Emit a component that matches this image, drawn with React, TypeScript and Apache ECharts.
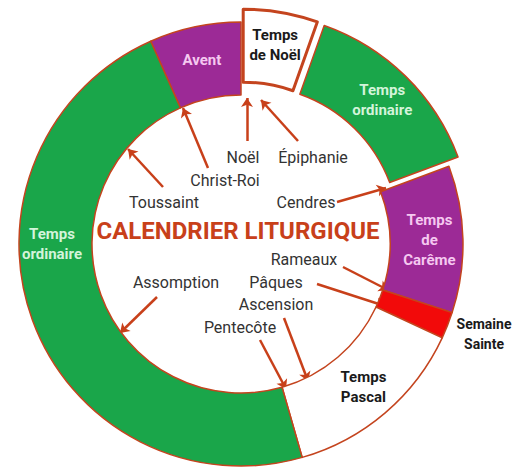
import React, { useEffect, useRef } from "react";
import * as echarts from "echarts";

// Liturgical seasons (arc size in degrees)
const phases = ["Avent", "Temps de Noël", "Temps ordinaire", "Temps de Carême", "Semaine Sainte", "Temps Pascal", "Temps ordinaire"];
const phaseDegrees = [24, 19.5, 50, 38.5, 7, 49, 172];
const phaseColors = ["#9c2a96", "#ffffff", "#1aa64a", "#9c2a96", "#f20a0a", "#ffffff", "#1aa64a"];
const phaseExploded = [false, true, true, false, false, false, false];
const phaseLabelText = ["Avent", "Temps\nde Noël", "Temps\nordinaire", "Temps\nde\nCarême", "", "Temps\nPascal", ""];
const phaseLabelColor = ["#f5c8f0", "#1a1a1a", "#d3f4da", "#f5c8f0", "#1a1a1a", "#1a1a1a", "#d3f4da"];

// Feasts
const feasts = ["Noël", "Épiphanie", "Christ-Roi", "Toussaint", "Cendres", "Rameaux", "Pâques", "Assomption", "Ascension", "Pentecôte"];

// Layout (positions only)
const feastLabelPos = [[243, 157], [313, 157], [225, 180], [164, 202], [306, 202], [304, 259], [276, 282], [176, 282], [276, 304], [240, 327]];
const feastArrows = [
  [[247, 141], [247, 98]],
  [[298, 141], [261, 100]],
  [[208, 168], [183, 108]],
  [[163, 187], [128, 149]],
  [[337, 202], [386, 188]],
  [[343, 267], [388, 290]],
  [[317, 284], [385, 306]],
  [[157, 297], [120, 333]],
  [[284, 318], [308, 381]],
  [[260, 340], [286, 389]],
];

const BORDER = "#c4441e";
const ACCENT = "#c8401a";

export default function App() {
  const ref = useRef<HTMLDivElement>(null);
  useEffect(() => {
    document.body.style.margin = "0";
    const chart = echarts.init(ref.current!, null, { renderer: "svg" });
    const pieData = phases.map((name, i) => ({
      name: `${i}-${name}`,
      value: phaseDegrees[i],
      selected: phaseExploded[i],
      itemStyle: {
        color: phaseColors[i],
        borderColor: BORDER,
        borderWidth: i === 1 ? 3 : 1.5,
      },
      label: {
        show: phaseLabelText[i] !== "",
        color: phaseLabelColor[i],
      },
    }));
    chart.setOption({
      animation: false,
      grid: { left: 0, right: 0, top: 0, bottom: 0 },
      xAxis: { type: "value", min: 0, max: 520, show: false },
      yAxis: { type: "value", min: 0, max: 467, inverse: true, show: false },
      series: [
        {
          type: "pie",
          center: [241, 244],
          radius: [149, 222],
          startAngle: 114,
          clockwise: true,
          selectedMode: "multiple",
          selectedOffset: 13,
          avoidLabelOverlap: false,
          silent: true,
          label: {
            position: "inside",
            fontFamily: "Roboto",
            fontWeight: "bold",
            fontSize: 15,
            lineHeight: 20,
            formatter: (p: any) => phaseLabelText[p.dataIndex],
          },
          labelLine: { show: false },
          emphasis: { disabled: true },
          data: pieData,
        },
        {
          type: "lines",
          coordinateSystem: "cartesian2d",
          silent: true,
          symbol: ["none", "arrow"],
          symbolSize: 9,
          lineStyle: { color: ACCENT, width: 2.5, opacity: 1 },
          data: feastArrows.map((c) => ({ coords: c })),
        },
      ],
      graphic: [
        {
          type: "text",
          z: 100,
          x: 238,
          y: 231,
          style: {
            text: "CALENDRIER LITURGIQUE",
            fill: ACCENT,
            font: "bold 24px Roboto",
            textAlign: "center",
            textVerticalAlign: "middle",
          },
        },
        {
          type: "text",
          z: 100,
          x: 484,
          y: 334,
          style: {
            text: "Semaine\nSainte",
            fill: "#1a1a1a",
            font: "bold 14px Roboto",
            lineHeight: 20,
            textAlign: "center",
            textVerticalAlign: "middle",
          },
        },
        {
          type: "text",
          z: 100,
          x: 52,
          y: 244,
          style: {
            text: "Temps\nordinaire",
            fill: "#d3f4da",
            font: "bold 15px Roboto",
            lineHeight: 20,
            textAlign: "center",
            textVerticalAlign: "middle",
          },
        },
        ...feasts.map((f, i) => ({
          type: "text",
          z: 100,
          x: feastLabelPos[i][0],
          y: feastLabelPos[i][1],
          style: {
            text: f,
            fill: "#333333",
            font: "16px Roboto",
            textAlign: "center",
            textVerticalAlign: "middle",
          },
        })),
      ],
    });
    return () => chart.dispose();
  }, []);
  return <div ref={ref} style={{ width: 520, height: 467 }} />;
}
